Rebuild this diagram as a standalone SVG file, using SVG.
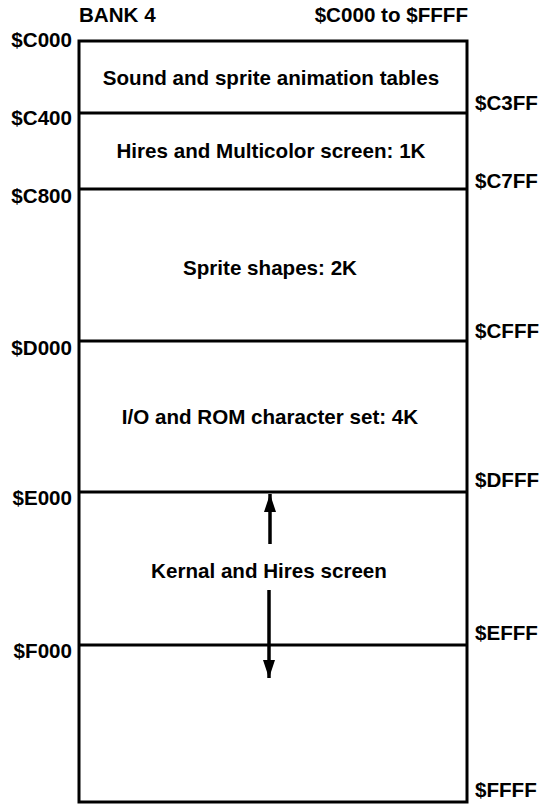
<svg xmlns="http://www.w3.org/2000/svg" width="542" height="809" viewBox="0 0 542 809">
<style>
text{font-family:"Liberation Sans",Arial,sans-serif;font-weight:bold;font-size:20.6px;fill:#000}
.l{text-anchor:end}
.m{text-anchor:middle}
.box{fill:#fff;stroke:#000;stroke-width:3}
.div{stroke:#000;stroke-width:3}
.arr{stroke:#000;stroke-width:3.5;fill:none}
</style>
<defs>
<marker id="ah" viewBox="0 0 18 12" refX="18" refY="6" markerWidth="18" markerHeight="12" markerUnits="userSpaceOnUse" orient="auto">
<path d="M0,0 L18,6 L0,12 Z" fill="#000"/>
</marker>
</defs>
<rect width="542" height="809" fill="#fff"/>
<g id="header">
<text x="79" y="22">BANK 4</text>
<text x="468" y="22" class="l">$C000 to $FFFF</text>
</g>
<g id="memory-map">
<rect class="box" x="79" y="41" width="388" height="761"/>
</g>
<g id="sound-tables">
<text x="271" y="85" class="m">Sound and sprite animation tables</text>
</g>
<g id="hires-screen">
<line class="div" x1="79" y1="113" x2="467" y2="113"/>
<text x="271" y="158" class="m">Hires and Multicolor screen: 1K</text>
</g>
<g id="sprite-shapes">
<line class="div" x1="79" y1="189" x2="467" y2="189"/>
<text x="270" y="275" class="m">Sprite shapes: 2K</text>
</g>
<g id="io-rom">
<line class="div" x1="79" y1="341" x2="467" y2="341"/>
<text x="270" y="424" class="m">I/O and ROM character set: 4K</text>
</g>
<g id="kernal">
<line class="div" x1="79" y1="492" x2="467" y2="492"/>
<text x="269" y="578" class="m">Kernal and Hires screen</text>
</g>
<g id="f000-block">
<line class="div" x1="79" y1="645" x2="467" y2="645"/>
</g>
<g id="start-addresses">
<text x="72" y="47" class="l">$C000</text>
<text x="72" y="125" class="l">$C400</text>
<text x="72" y="203" class="l">$C800</text>
<text x="72" y="355" class="l">$D000</text>
<text x="72" y="505" class="l">$E000</text>
<text x="72" y="658" class="l">$F000</text>
</g>
<g id="end-addresses">
<text x="475" y="110">$C3FF</text>
<text x="475" y="188">$C7FF</text>
<text x="475" y="338">$CFFF</text>
<text x="475" y="487">$DFFF</text>
<text x="475" y="640">$EFFF</text>
<text x="475" y="797">$FFFF</text>
</g>
<g id="connectors">
<line class="arr" x1="270" y1="544" x2="270" y2="494" marker-end="url(#ah)"/>
<line class="arr" x1="269" y1="590" x2="269" y2="678" marker-end="url(#ah)"/>
</g>
</svg>
